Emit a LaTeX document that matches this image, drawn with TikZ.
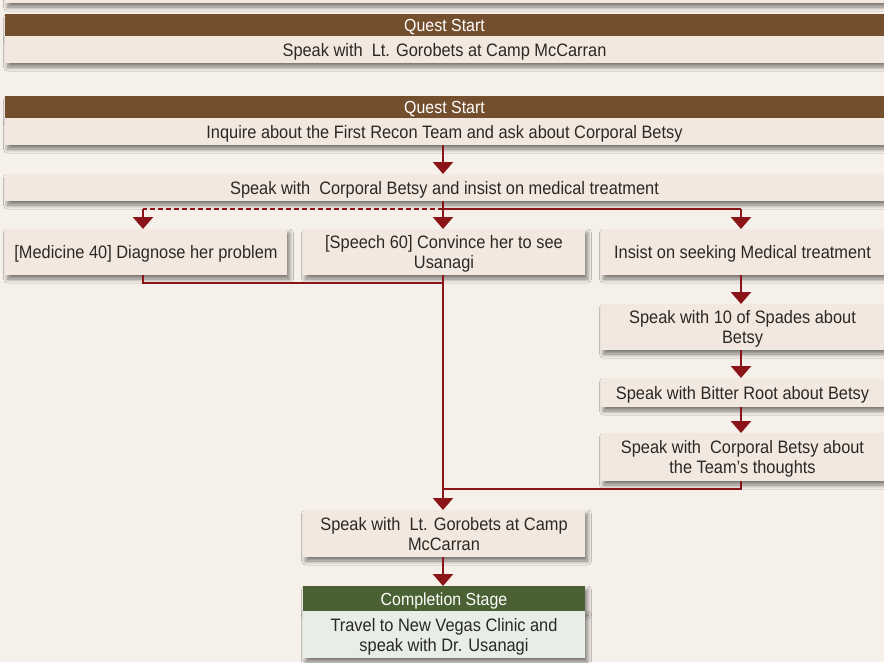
\documentclass[tikz,border=0pt]{standalone}
\usepackage{fontspec}
\setmainfont{Liberation Sans}[FakeStretch=0.91]
\usetikzlibrary{arrows.meta,shadows.blur}
\definecolor{bg}{HTML}{F6F0EA}
\definecolor{hdr}{HTML}{744F2E}
\definecolor{bodyf}{HTML}{F3E8DF}
\definecolor{grn}{HTML}{4A6133}
\definecolor{grnbody}{HTML}{E7EEE6}
\definecolor{lnk}{HTML}{8B1418}
\definecolor{txt}{HTML}{2B2724}
\newcommand{\lns}[1]{\raisebox{-2.5pt}[\height][\depth]{\begin{tabular}{@{}c@{}}#1\end{tabular}}}
\tikzset{
  shad/.style={blur shadow={shadow xshift=2.5pt,shadow yshift=-4pt,shadow blur steps=8,shadow opacity=50,shadow blur radius=4pt}},
  body/.style={shad,fill=bodyf,text=txt,inner sep=0pt,align=center,font=\fontsize{18}{20}\selectfont},
  head/.style={shad,fill=hdr,text=white,inner sep=0pt,align=center,font=\fontsize{17.5}{20}\selectfont},
  ghead/.style={head,fill=grn},
  gbody/.style={body,fill=grnbody},
  wire/.style={draw=lnk,line width=2.6pt},
  arr/.style={wire,-{Triangle[width=20pt,length=12pt]}},
}
\begin{document}
\begin{tikzpicture}[x=1pt,y=-1pt]
\fill[bg] (0,0) rectangle (884,662);
\useasboundingbox (0,0) rectangle (884,662);
% partial box at top
\node[body,minimum width=879pt,minimum height=23pt] (top0) at (444.5,-8.5) {};
% quest start 1
\node[head,minimum width=879pt,minimum height=22pt] (qs1h) at (444.5,25) {\lns{Quest Start}};
\node[body,minimum width=879pt,minimum height=27pt] (qs1b) at (444.5,49.5) {\lns{Speak with\ \ Lt. Gorobets at Camp McCarran}};
% quest start 2
\node[head,minimum width=879pt,minimum height=22pt] (qs2h) at (444.5,107) {\lns{Quest Start}};
\node[body,minimum width=879pt,minimum height=27pt] (qs2b) at (444.5,131.5) {\lns{Inquire about the First Recon Team and ask about Corporal Betsy}};
\node[body,minimum width=879pt,minimum height=27pt] (betsy) at (444.5,187.5) {\lns{Speak with\ \ Corporal Betsy and insist on medical treatment}};
% row
\node[body,minimum width=282pt,minimum height=46pt] (med) at (146,252) {\lns{[Medicine 40] Diagnose her problem}};
\node[body,minimum width=282pt,minimum height=46pt] (speech) at (444,252) {\lns{[Speech 60] Convince her to see\\Usanagi}};
\node[body,minimum width=283pt,minimum height=46pt] (insist) at (742.5,252) {\lns{Insist on seeking Medical treatment}};
\node[body,minimum width=283pt,minimum height=46pt] (spades) at (742.5,327) {\lns{Speak with 10 of Spades about\\Betsy}};
\node[body,minimum width=283pt,minimum height=29pt] (bitter) at (742.5,392.5) {\lns{Speak with Bitter Root about Betsy}};
\node[body,minimum width=283pt,minimum height=48pt] (team) at (742.5,457) {\lns{Speak with\ \ Corporal Betsy about\\the Team’s thoughts}};
\node[body,minimum width=282pt,minimum height=47pt] (gor) at (444,533.5) {\lns{Speak with\ \ Lt. Gorobets at Camp\\McCarran}};
\node[ghead,minimum width=282pt,minimum height=25pt] (comph) at (444,598.5) {\lns{Completion Stage}};
\node[gbody,minimum width=282pt,minimum height=47pt] (compb) at (444,634.5) {\lns{Travel to New Vegas Clinic and\\speak with Dr. Usanagi}};
% connectors
\coordinate (fork) at (443,209);
\coordinate (m1) at (443,283);
\coordinate (m2) at (443,489);
\draw[arr] (443,145) -- (443,174);
\draw[wire,dash pattern=on 5pt off 3pt] (fork) -- (143,209);
\draw[arr] (143,209) -- (143,229);
\draw[arr] (443,201) -- (443,229);
\draw[wire] (fork) -- (741,209);
\draw[arr] (741,209) -- (741,229);
\draw[wire] (143,275) |- (m1);
\draw[arr] (443,275) -- (443,510);
\draw[arr] (741,275) -- (741,304);
\draw[arr] (741,350) -- (741,378);
\draw[arr] (741,407) -- (741,433);
\draw[wire] (741,481) |- (m2);
\draw[arr] (443,557) -- (443,586);
\end{tikzpicture}
\end{document}
